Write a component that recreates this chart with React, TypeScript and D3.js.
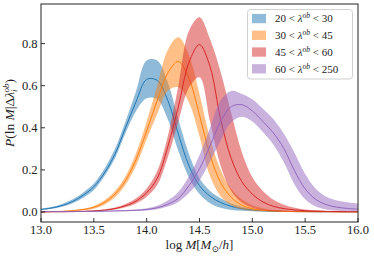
import React from 'react';
import * as d3 from 'd3';

const WIDTH = 374;
const HEIGHT = 258;
const margin = { top: 4, right: 16, bottom: 36, left: 41 };

// log M grid shared by every series
const massGrid = [
  13.0, 13.1, 13.2, 13.3, 13.4, 13.5, 13.6, 13.7, 13.8, 13.9,
  14.0, 14.1, 14.2, 14.3, 14.4, 14.5, 14.6, 14.7, 14.8, 14.9,
  15.0, 15.1, 15.2, 15.3, 15.4, 15.5, 15.6, 15.7, 15.8, 15.9, 16.0
];

const blueMid = [
  0.012, 0.019, 0.031, 0.05, 0.08, 0.12, 0.185, 0.275, 0.4, 0.525,
  0.63, 0.625, 0.53, 0.37, 0.22, 0.125, 0.075, 0.045, 0.027, 0.016,
  0.01, 0.006, 0.004, 0.003, 0.002, 0.002, 0.001, 0.001, 0.001, 0.001, 0.001
];
const blueHi = [
  0.016, 0.024, 0.038, 0.06, 0.093, 0.135, 0.205, 0.3, 0.43, 0.575,
  0.72, 0.72, 0.615, 0.44, 0.275, 0.16, 0.1, 0.065, 0.04, 0.025,
  0.016, 0.01, 0.007, 0.005, 0.004, 0.003, 0.002, 0.002, 0.001, 0.001, 0.001
];
const blueLo = [
  0.009, 0.015, 0.025, 0.041, 0.068, 0.105, 0.17, 0.255, 0.375, 0.48,
  0.54, 0.535, 0.44, 0.29, 0.165, 0.085, 0.042, 0.02, 0.01, 0.006,
  0.004, 0.002, 0.001, 0.001, 0.001, 0.0, 0.0, 0.0, 0.0, 0.0, 0.0
];

const orangeMid = [
  0.001, 0.002, 0.003, 0.006, 0.012, 0.022, 0.045, 0.085, 0.15, 0.25,
  0.385, 0.53, 0.66, 0.715, 0.635, 0.46, 0.27, 0.14, 0.07, 0.033,
  0.016, 0.008, 0.005, 0.003, 0.002, 0.001, 0.001, 0.001, 0.0, 0.0, 0.0
];
const orangeHi = [
  0.002, 0.003, 0.005, 0.009, 0.016, 0.029, 0.056, 0.1, 0.17, 0.28,
  0.43, 0.6, 0.77, 0.83, 0.745, 0.56, 0.35, 0.2, 0.11, 0.06,
  0.032, 0.018, 0.01, 0.006, 0.004, 0.002, 0.002, 0.001, 0.001, 0.001, 0.001
];
const orangeLo = [
  0.0, 0.001, 0.002, 0.004, 0.008, 0.016, 0.035, 0.07, 0.13, 0.22,
  0.345, 0.465, 0.575, 0.592, 0.52, 0.36, 0.17, 0.075, 0.032, 0.013,
  0.006, 0.003, 0.002, 0.001, 0.0, 0.0, 0.0, 0.0, 0.0, 0.0, 0.0
];

const redMid = [
  0.0, 0.001, 0.001, 0.002, 0.003, 0.005, 0.009, 0.016, 0.03, 0.052,
  0.092, 0.16, 0.31, 0.5, 0.71, 0.795, 0.69, 0.44, 0.255, 0.145,
  0.085, 0.048, 0.027, 0.016, 0.01, 0.006, 0.004, 0.003, 0.002, 0.001, 0.001
];
const redHi = [
  0.001, 0.001, 0.002, 0.003, 0.004, 0.007, 0.012, 0.021, 0.038, 0.065,
  0.112, 0.195, 0.36, 0.6, 0.86, 0.925, 0.82, 0.665, 0.47, 0.285,
  0.165, 0.1, 0.058, 0.034, 0.02, 0.012, 0.008, 0.005, 0.003, 0.002, 0.002
];
const redLo = [
  0.0, 0.0, 0.001, 0.001, 0.002, 0.003, 0.006, 0.012, 0.022, 0.04,
  0.072, 0.128, 0.26, 0.43, 0.59, 0.64, 0.43, 0.22, 0.1, 0.045,
  0.02, 0.009, 0.004, 0.002, 0.001, 0.0, 0.0, 0.0, 0.0, 0.0, 0.0
];

const purpleMid = [
  0.002, 0.002, 0.002, 0.002, 0.003, 0.003, 0.004, 0.005, 0.006, 0.008,
  0.012, 0.02, 0.037, 0.065, 0.125, 0.205, 0.315, 0.43, 0.5, 0.51,
  0.48, 0.43, 0.375, 0.3, 0.195, 0.11, 0.06, 0.035, 0.023, 0.017, 0.013
];
const purpleHi = [
  0.003, 0.003, 0.003, 0.003, 0.004, 0.004, 0.005, 0.007, 0.009, 0.012,
  0.018, 0.03, 0.055, 0.095, 0.17, 0.27, 0.4, 0.53, 0.575, 0.56,
  0.535, 0.49, 0.44, 0.37, 0.28, 0.18, 0.11, 0.072, 0.055, 0.046, 0.04
];
const purpleLo = [
  0.001, 0.001, 0.001, 0.001, 0.002, 0.002, 0.002, 0.003, 0.004, 0.005,
  0.007, 0.013, 0.026, 0.048, 0.09, 0.15, 0.24, 0.34, 0.425, 0.452,
  0.43, 0.38, 0.32, 0.235, 0.13, 0.06, 0.026, 0.012, 0.006, 0.004, 0.003
];

const seriesLabels = [['20', '30'], ['30', '45'], ['45', '60'], ['60', '250']];
const seriesColors = ['#1f77b4', '#ff7f0e', '#d62728', '#9467bd'];

const xTicks = [13.0, 13.5, 14.0, 14.5, 15.0, 15.5, 16.0];
const yTicks = [0.0, 0.2, 0.4, 0.6, 0.8];
const xDomain = [13, 16];
const yDomain = [-0.0475, 0.988];

const series = [
  { mid: blueMid, hi: blueHi, lo: blueLo },
  { mid: orangeMid, hi: orangeHi, lo: orangeLo },
  { mid: redMid, hi: redHi, lo: redLo },
  { mid: purpleMid, hi: purpleHi, lo: purpleLo }
];

const FONT = "'Liberation Serif', 'DejaVu Serif', serif";

export default function App() {
  const x = d3.scaleLinear().domain(xDomain).range([margin.left, WIDTH - margin.right]);
  const y = d3.scaleLinear().domain(yDomain).range([HEIGHT - margin.bottom, margin.top]);
  const fmt = d3.format('.1f');
  const curve = d3.curveCatmullRom.alpha(0.5);

  const area = d3.area<number>()
    .curve(curve)
    .x((_, i) => x(massGrid[i]));
  const line = d3.line<number>()
    .curve(curve)
    .x((_, i) => x(massGrid[i]))
    .y(d => y(d));

  const x0 = margin.left;
  const x1 = WIDTH - margin.right;
  const y0 = HEIGHT - margin.bottom;
  const y1 = margin.top;

  return (
    <div style={{ position: 'absolute', left: 0, top: 0 }}>
      <svg width={WIDTH} height={HEIGHT} style={{ display: 'block', background: '#fff' }} fontFamily={FONT}>
        <defs>
          <clipPath id="plot">
            <rect x={x0} y={y1} width={x1 - x0} height={y0 - y1} />
          </clipPath>
        </defs>
        <g clipPath="url(#plot)">
          {series.map((s, k) => {
            const band = area
              .y0((_, i) => y(s.lo[i]))
              .y1((_, i) => y(s.hi[i]))(s.mid);
            return (
              <g key={k}>
                <path d={band || ''} fill={seriesColors[k]} fillOpacity={0.5} stroke="none" />
                <path d={line(s.mid) || ''} fill="none" stroke={seriesColors[k]} strokeWidth={1} />
              </g>
            );
          })}
        </g>

        {/* ticks, inward */}
        {xTicks.map(t => (
          <g key={'x' + t}>
            <line x1={x(t)} x2={x(t)} y1={y0} y2={y0 - 4} stroke="#000" strokeWidth={0.8} />
            <text x={x(t)} y={y0 + 11.5} fontSize={12.5} textAnchor="middle" fill="#222">{fmt(t)}</text>
          </g>
        ))}
        {yTicks.map(t => (
          <g key={'y' + t}>
            <line x1={x0} x2={x0 + 4} y1={y(t)} y2={y(t)} stroke="#000" strokeWidth={0.8} />
            <text x={x0 - 3.5} y={y(t) + 4.2} fontSize={12.5} textAnchor="end" fill="#222">{fmt(t)}</text>
          </g>
        ))}

        <rect x={x0} y={y1} width={x1 - x0} height={y0 - y1} fill="none" stroke="#222" strokeWidth={1} />

        {/* axis labels */}
        <text x={(x0 + x1) / 2} y={249} fontSize={13} textAnchor="middle" fill="#222">
          log <tspan fontStyle="italic">M</tspan>[<tspan fontStyle="italic">M</tspan>
          <tspan dy={3} fontSize={9}>⊙</tspan>
          <tspan dy={-3}>/</tspan><tspan fontStyle="italic">h</tspan>]
        </text>
        <text transform={`translate(14,${(y0 + y1) / 2}) rotate(-90)`} fontSize={13.5} textAnchor="middle" fill="#222">
          <tspan fontStyle="italic">P</tspan>(ln <tspan fontStyle="italic">M</tspan>|Δ<tspan fontStyle="italic">λ</tspan>
          <tspan dy={3} fontSize={9} fontStyle="italic">i</tspan>
          <tspan dy={-8.5} dx={-3} fontSize={9} fontStyle="italic">ob</tspan>
          <tspan dy={5.5}>)</tspan>
        </text>

        {/* legend */}
        <g>
          <rect x={247.5} y={9.5} width={105} height={69.5} rx={3} fill="#fff" fillOpacity={0.8} stroke="#d0d0d0" strokeWidth={1} />
          {seriesLabels.map((lab, k) => {
            const cy = 18.5 + k * 16.75;
            return (
              <g key={k}>
                <rect x={252} y={cy - 4.6} width={14} height={9.3} fill={seriesColors[k]} fillOpacity={0.5} />
                <text x={275} y={cy + 3.8} fontSize={11} fill="#222">
                  {lab[0]} &lt; <tspan fontStyle="italic">λ</tspan>
                  <tspan dy={-4} fontSize={7.5} fontStyle="italic">ob</tspan>
                  <tspan dy={4}> &lt; {lab[1]}</tspan>
                </text>
              </g>
            );
          })}
        </g>
      </svg>
    </div>
  );
}
